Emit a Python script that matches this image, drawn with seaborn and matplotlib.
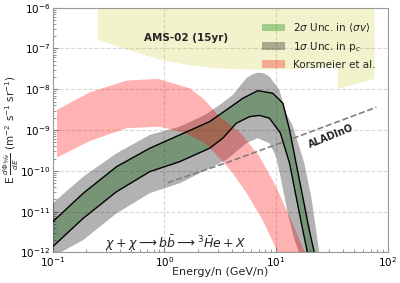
import numpy as np
import pandas as pd
import matplotlib
matplotlib.use("Agg")
import matplotlib.pyplot as plt
from matplotlib.patches import Patch
import seaborn as sns

# AMS-02 (15yr) sensitivity region (lower boundary, top is 1e-6)
ams_e = [0.25, 0.43, 0.85, 1.68, 3.32, 6.6, 13.1, 35.5, 35.5, 75.5]
ams_low = [1.68e-7, 1.01e-7, 5.75e-8, 3.94e-8, 3.27e-8, 3.09e-8, 3.2e-8, 3.58e-8, 1.06e-8, 1.86e-8]

# Korsmeier et al. band
kor_up_e = [0.109, 0.215, 0.458, 0.877, 1.68, 2.21, 3.12, 4.90, 7.09, 10.0, 13.2, 16.7, 18.3, 20.0]
kor_up = [3.11e-9, 8.44e-9, 1.63e-8, 1.79e-8, 1.06e-8, 6.0e-9, 2.13e-9, 8.0e-10, 2.23e-10,
          4.1e-11, 7.5e-12, 1.68e-12, 9.8e-13, 5e-13]
kor_lo_e = [0.109, 0.215, 0.458, 0.908, 1.52, 2.29, 3.12, 4.07, 5.43, 7.55, 10.3, 11.2]
kor_lo = [2.11e-10, 5.4e-10, 1.11e-9, 1.21e-9, 8.5e-10, 4.8e-10, 2.07e-10, 8.9e-11, 2.88e-11,
          6.3e-12, 1.03e-12, 5e-13]

# 2 sigma band in <sigma v> (black lines)
up_e = [0.1, 0.1875, 0.373, 0.739, 1.37, 2.54, 3.58, 5.04, 6.85, 9.33, 11.5, 13.2, 15.1, 17.3, 19.8, 22.0, 23.4]
up_f = [5.69e-12, 2.83e-11, 1.27e-10, 3.58e-10, 7.59e-10, 1.61e-9, 3.11e-9, 6.01e-9, 9.24e-9,
        7.97e-9, 4.54e-9, 1.0e-9, 1.53e-10, 2.33e-11, 3.56e-12, 9.8e-13, 4.9e-13]
lo_e = [0.1, 0.1875, 0.373, 0.739, 1.37, 2.54, 3.33, 4.40, 5.78, 7.10, 8.71, 10.9, 13.2, 15.1, 17.3, 19.1, 20.2]
lo_f = [1.39e-12, 6.89e-12, 3.09e-11, 9.55e-11, 1.68e-10, 3.58e-10, 6.3e-10, 1.47e-9, 2.13e-9,
        2.28e-9, 1.95e-9, 8.5e-10, 1.53e-10, 2.33e-11, 3.56e-12, 9.8e-13, 4.9e-13]

# 1 sigma band in p_c (gray)
gu_e = [0.1, 0.1875, 0.373, 0.739, 1.37, 2.30, 3.12, 4.10, 4.75, 5.40, 6.1, 6.85, 7.8, 8.71, 10.7,
        12.3, 14.0, 17.9, 20.6, 22.8, 24.4, 25.4]
gu_f = [1.61e-11, 7.2e-11, 2.7e-10, 7.59e-10, 1.21e-9, 2.33e-9, 4.12e-9, 7.24e-9, 1.2e-8, 1.86e-8,
        2.3e-8, 2.55e-8, 2.45e-8, 2.04e-8, 9.6e-9, 2.58e-9, 1.33e-9, 1.53e-10, 2.33e-11, 3.56e-12,
        9.8e-13, 4.9e-13]
gl_e = [0.1, 0.116, 0.1875, 0.373, 0.739, 1.37, 2.21, 3.58, 5.40, 6.81, 8.71, 10.0, 11.1, 12.7,
        14.6, 16.1, 17.2]
gl_f = [4.5e-13, 9.8e-13, 2.02e-12, 9.1e-12, 2.83e-11, 4.97e-11, 9.55e-11, 1.85e-10, 4.74e-10,
        6.3e-10, 4.74e-10, 2.23e-10, 5.98e-11, 9.1e-12, 2.02e-12, 9.8e-13, 4.9e-13]

# ALADInO sensitivity
ala_e = [1.07, 3.83, 15.1, 79.1]
ala_f = [5.14e-11, 1.68e-10, 6.67e-10, 3.62e-9]

sns.set_style("whitegrid", {"grid.linestyle": "--", "axes.edgecolor": "0.6",
                            "xtick.direction": "in", "ytick.direction": "in"})
plt.rcParams['font.family'] = ['DejaVu Sans']

fig = plt.figure(figsize=(4.0, 2.83), dpi=100)
ax = fig.add_axes([0.132, 0.108, 0.8375, 0.865])
ax.set(xscale='log', yscale='log')

# AMS-02
ax.fill_between(ams_e, ams_low, 1e-6, color='#bfbf00', alpha=0.2, lw=0, zorder=1)

# bands: green (2 sigma) under the gray (1 sigma) band
ax.fill(np.concatenate([up_e, lo_e[::-1]]), np.concatenate([up_f, lo_f[::-1]]),
        color='green', alpha=0.33, lw=0, zorder=2)
ax.fill(np.concatenate([gu_e, gl_e[::-1]]), np.concatenate([gu_f, gl_f[::-1]]),
        color='black', alpha=0.3, lw=0, zorder=3)
ax.fill(np.concatenate([kor_up_e, kor_lo_e[::-1]]), np.concatenate([kor_up, kor_lo[::-1]]),
        color='red', alpha=0.3, lw=0, zorder=4)

lines = pd.DataFrame({'E': up_e + lo_e, 'F': up_f + lo_f,
                      'curve': ['up'] * len(up_e) + ['lo'] * len(lo_e)})
sns.lineplot(data=lines, x='E', y='F', units='curve', estimator=None, sort=False,
             color='black', lw=1.0, ax=ax, zorder=5)
sns.lineplot(x=ala_e, y=ala_f, sort=False, color='gray', ls='--', lw=1.2, ax=ax, zorder=5)

ax.set_xlim(0.1, 100)
ax.set_ylim(1e-12, 1e-6)
ax.grid(True, which='major', color='0.85', linestyle='--', lw=0.8)
ax.tick_params(which='both', direction='in', labelsize=7.5, colors='black', left=True, bottom=True)
ax.tick_params(which='minor', length=2, color='0.5')
ax.tick_params(which='major', length=3.5, color='0.5')
ax.tick_params(axis='x', which='major', pad=2)
ax.tick_params(axis='y', which='major', pad=2)

ax.set_xlabel('Energy/n (GeV/n)', fontsize=8)
ax.set_ylabel(r'E $\frac{d\Phi_{^3\bar{He}}}{dE}$ (m$^{-2}$ s$^{-1}$ sr$^{-1}$)', fontsize=7.5)
ax.xaxis.set_label_coords(0.5, -0.06)
ax.yaxis.set_label_coords(-0.095, 0.5)

ax.text(1.55, 1.8e-7, 'AMS-02 (15yr)', fontsize=7.5, fontweight='bold', ha='center', va='center', zorder=6)
ax.text(31, 7.2e-10, 'ALADInO', fontsize=7, fontweight='bold', rotation=22, ha='center', va='center', zorder=6)
ax.text(1.25, 1.7e-12, r'$\chi + \chi \longrightarrow b\bar{b} \longrightarrow {}^3\bar{H}e + X$',
        fontsize=9, ha='center', va='center', zorder=6)

handles = [Patch(facecolor='green', alpha=0.33, lw=0),
           Patch(facecolor='black', alpha=0.3, lw=0),
           Patch(facecolor='red', alpha=0.3, lw=0)]
labels = [r'2$\sigma$ Unc. in $\langle\sigma v\rangle$', r'1$\sigma$ Unc. in p$_c$', 'Korsmeier et al.']
ax.legend(handles, labels, loc='upper right', frameon=False, fontsize=7.5,
          bbox_to_anchor=(0.985, 0.975), handlelength=2.2, labelspacing=0.55, borderaxespad=0.3)

fig.savefig('out.png', dpi=100)
